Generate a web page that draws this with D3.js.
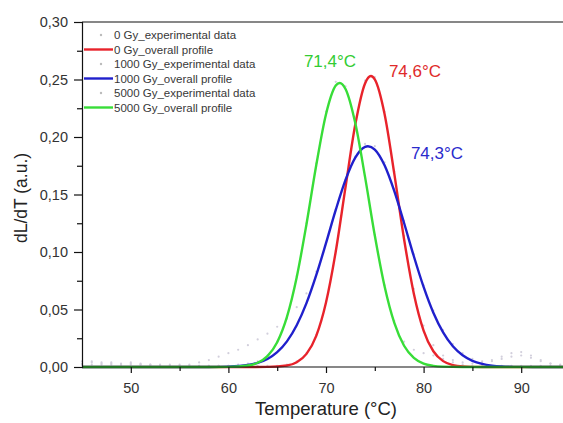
<!DOCTYPE html>
<html>
<head>
<meta charset="utf-8">
<script src="https://cdn.jsdelivr.net/npm/d3@7"></script>
<style>
body { margin:0; background:#fff; }
svg { font-family:"Liberation Sans", Arial, sans-serif; }
.tickText { font-size:14.5px; fill:#333; }
.legText { font-size:11.5px; fill:#383838; }
</style>
</head>
<body>
<div id="chart"></div>
<script>

/* experimental data, read every 1 °C from 45 to 95 */
var expTemps = d3.range(45, 96, 1)
var exp0 = [0.003,0.004,0.003,0.003,0.002,0.003,0.002,0.001,0.001,0.001,
  0.000,0.000,0.001,0.001,0.001,0.001,0.001,0.001,0.001,0.001,
  0.001,0.002,0.005,0.012,0.028,0.057,0.101,0.157,0.212,0.249,
  0.252,0.222,0.170,0.114,0.068,0.036,0.019,0.010,0.006,0.004,
  0.003,0.004,0.006,0.009,0.012,0.013,0.010,0.006,0.003,0.002,0.001]
var exp1000 = [0.002,0.002,0.002,0.002,0.002,0.002,0.002,0.002,0.002,0.002,
  0.002,0.002,0.004,0.006,0.009,0.012,0.015,0.019,0.024,0.029,
  0.035,0.042,0.052,0.064,0.083,0.108,0.137,0.163,0.183,0.194,
  0.192,0.178,0.155,0.127,0.098,0.071,0.049,0.032,0.020,0.012,
  0.007,0.005,0.005,0.007,0.009,0.010,0.008,0.005,0.003,0.001,0.001]
var exp5000 = [0.005,0.005,0.004,0.004,0.003,0.004,0.003,0.002,0.001,0.001,
  0.001,0.001,0.001,0.001,0.001,0.001,0.002,0.003,0.005,0.010,
  0.022,0.044,0.079,0.125,0.177,0.222,0.248,0.244,0.213,0.166,
  0.115,0.071,0.040,0.022,0.015,0.012,0.010,0.007,0.004,0.002,
  0.001,0.001,0.001,0.001,0.001,0.001,0.001,0.001,0.001,0.001,0.001]

/* overall profiles [T, dL/dT] */
var prof0 = [[45,0],[62,0],[64,0.0001],[66,0.0013],[67,0.0041],[68,0.0114],[69,0.0271],[70,0.0561],
  [71,0.1005],[72,0.1564],[73,0.2108],[74,0.2466],[74.6,0.253],[75,0.2501],[76,0.2200],[77,0.1679],
  [78,0.1111],[79,0.0638],[80,0.0317],[81,0.0137],[82,0.0051],[83,0.0017],[84,0.0005],[86,0],[95,0]]
var prof1000 = [[45,0],[58,0],[60,0.0003],[62,0.0017],[63,0.0036],[64,0.0070],[65,0.0129],[66,0.0223],
  [67,0.0363],[68,0.0555],[69,0.0798],[70,0.1077],[71,0.1366],[72,0.1627],[73,0.1821],[74,0.1915],
  [74.3,0.192],[75,0.1891],[76,0.1754],[77,0.1529],[78,0.1252],[79,0.0963],[80,0.0696],[81,0.0472],
  [82,0.0301],[83,0.0180],[84,0.0102],[85,0.0054],[86,0.0027],[87,0.0012],[88,0.0005],[90,0.0001],[92,0],[95,0]]
var prof5000 = [[45,0],[58,0],[60,0.0001],[62,0.0013],[63,0.0037],[64,0.0095],[65,0.0216],[66,0.0436],
  [67,0.0781],[68,0.1242],[69,0.1754],[70,0.2198],[71,0.2447],[71.4,0.247],[72,0.2418],[73,0.2121],
  [74,0.1653],[75,0.1143],[76,0.0702],[77,0.0383],[78,0.0185],[79,0.0080],[80,0.0030],[81,0.0010],
  [82,0.0003],[84,0],[95,0]]

var peakLabels = ["71,4°C","74,6°C","74,3°C"]
var legendNames = ["0 Gy_experimental data","0 Gy_overall profile","1000 Gy_experimental data",
  "1000 Gy_overall profile","5000 Gy_experimental data","5000 Gy_overall profile"]
var xTicks = [50,60,70,80,90]
var yTicks = [0,0.05,0.10,0.15,0.20,0.25,0.30]

var colors = { red:"#e8232b", blue:"#2020cc", green:"#38dd38", dots:"#d2cfdc" }

var width = 563, height = 423
var plotL = 82, plotR = 570, plotT = 22, plotB = 367

var svg = d3.select("#chart").append("svg")
  .attr("width", width)
  .attr("height", height)

var xScale = d3.scaleLinear().domain([45,95]).range([plotL,plotR])
var yScale = d3.scaleLinear().domain([0,0.30]).range([plotB,plotT])

/* experimental dots */
function drawDots(vals) {
  svg.append("g").selectAll("circle")
    .data(vals)
    .enter().append("circle")
    .attr("cx", function(d,i) { return xScale(expTemps[i]) })
    .attr("cy", function(d) { return yScale(d) })
    .attr("r", 1.1)
    .attr("fill", colors.dots)
}
drawDots(exp0)
drawDots(exp1000)
drawDots(exp5000)

/* profiles */
var lineFn = d3.line()
  .x(function(d) { return xScale(d[0]) })
  .y(function(d) { return yScale(d[1]) })
  .curve(d3.curveMonotoneX)

svg.append("path").attr("d", lineFn(prof0)).attr("fill","none")
  .attr("stroke", colors.red).attr("stroke-width", 2.4)
svg.append("path").attr("d", lineFn(prof1000)).attr("fill","none")
  .attr("stroke", colors.blue).attr("stroke-width", 2.4)
svg.append("path").attr("d", lineFn(prof5000)).attr("fill","none")
  .attr("stroke", colors.green).attr("stroke-width", 2.4)

/* axes */
var xAxis = d3.axisBottom(xScale)
  .tickValues(d3.range(50,95,5))
  .tickSize(6)
  .tickFormat(function(d) { return xTicks.indexOf(d) >= 0 ? d : "" })
var gx = svg.append("g")
  .attr("transform","translate(0," + plotB + ")")
  .call(xAxis)
gx.selectAll(".tick line").attr("y2", function(d) { return xTicks.indexOf(d) >= 0 ? 6 : 4 })
gx.select(".domain").attr("d","M" + plotL + ",0H" + width)

var yAxis = d3.axisLeft(yScale)
  .tickValues(d3.range(0,0.301,0.025))
  .tickSize(8)
  .tickFormat(function(d) {
    var hit = yTicks.filter(function(t) { return Math.abs(t-d) < 1e-6 })
    return hit.length ? d3.format(".2f")(d).replace(".",",") : ""
  })
var gy = svg.append("g")
  .attr("transform","translate(" + plotL + ",0)")
  .call(yAxis)
gy.selectAll(".tick line").attr("x2", function(d,i) { return i % 2 == 0 ? -8 : -5 })

svg.selectAll(".domain").attr("stroke","#111").attr("stroke-width",1.2)
svg.selectAll(".tick line").attr("stroke","#111").attr("stroke-width",1.2)
svg.selectAll(".tick text").attr("class","tickText").attr("font-family",null).attr("font-size",null)
gx.selectAll(".tick text").attr("dy","1.15em")
gy.selectAll(".tick text").attr("dx","-3")

/* top frame */
svg.append("line")
  .attr("x1", plotL).attr("x2", width)
  .attr("y1", plotT).attr("y2", plotT)
  .attr("stroke","#111").attr("stroke-width",1.2)

/* titles */
svg.append("text")
  .attr("x", 326).attr("y", 415)
  .attr("text-anchor","middle")
  .attr("font-size",18.5).attr("fill","#222")
  .text("Temperature (°C)")
svg.append("text")
  .attr("transform","translate(27,198) rotate(-90)")
  .attr("text-anchor","middle")
  .attr("font-size",17.5).attr("fill","#222")
  .text("dL/dT (a.u.)")

/* peak labels */
var labelColors = ["#33cc33","#e02a2a","#2a2acc"]
var labelX = [330, 415, 437]
var labelY = [67, 77, 159]
peakLabels.forEach(function(t,i) {
  svg.append("text")
    .attr("x", labelX[i]).attr("y", labelY[i])
    .attr("text-anchor","middle")
    .attr("font-size",17)
    .attr("fill", labelColors[i])
    .text(t)
})

/* legend */
var legColors = [colors.red, colors.blue, colors.green]
legendNames.forEach(function(name,i) {
  var y = 35 + i * 14.5
  if (i % 2 == 0) {
    svg.append("circle").attr("cx",101).attr("cy",y).attr("r",1.2).attr("fill","#bbb")
  } else {
    svg.append("line").attr("x1",84).attr("x2",113).attr("y1",y).attr("y2",y)
      .attr("stroke", legColors[(i-1)/2]).attr("stroke-width",2.4)
  }
  svg.append("text")
    .attr("class","legText")
    .attr("x",114).attr("y",y + 4)
    .text(name)
})

</script>
</body>
</html>
